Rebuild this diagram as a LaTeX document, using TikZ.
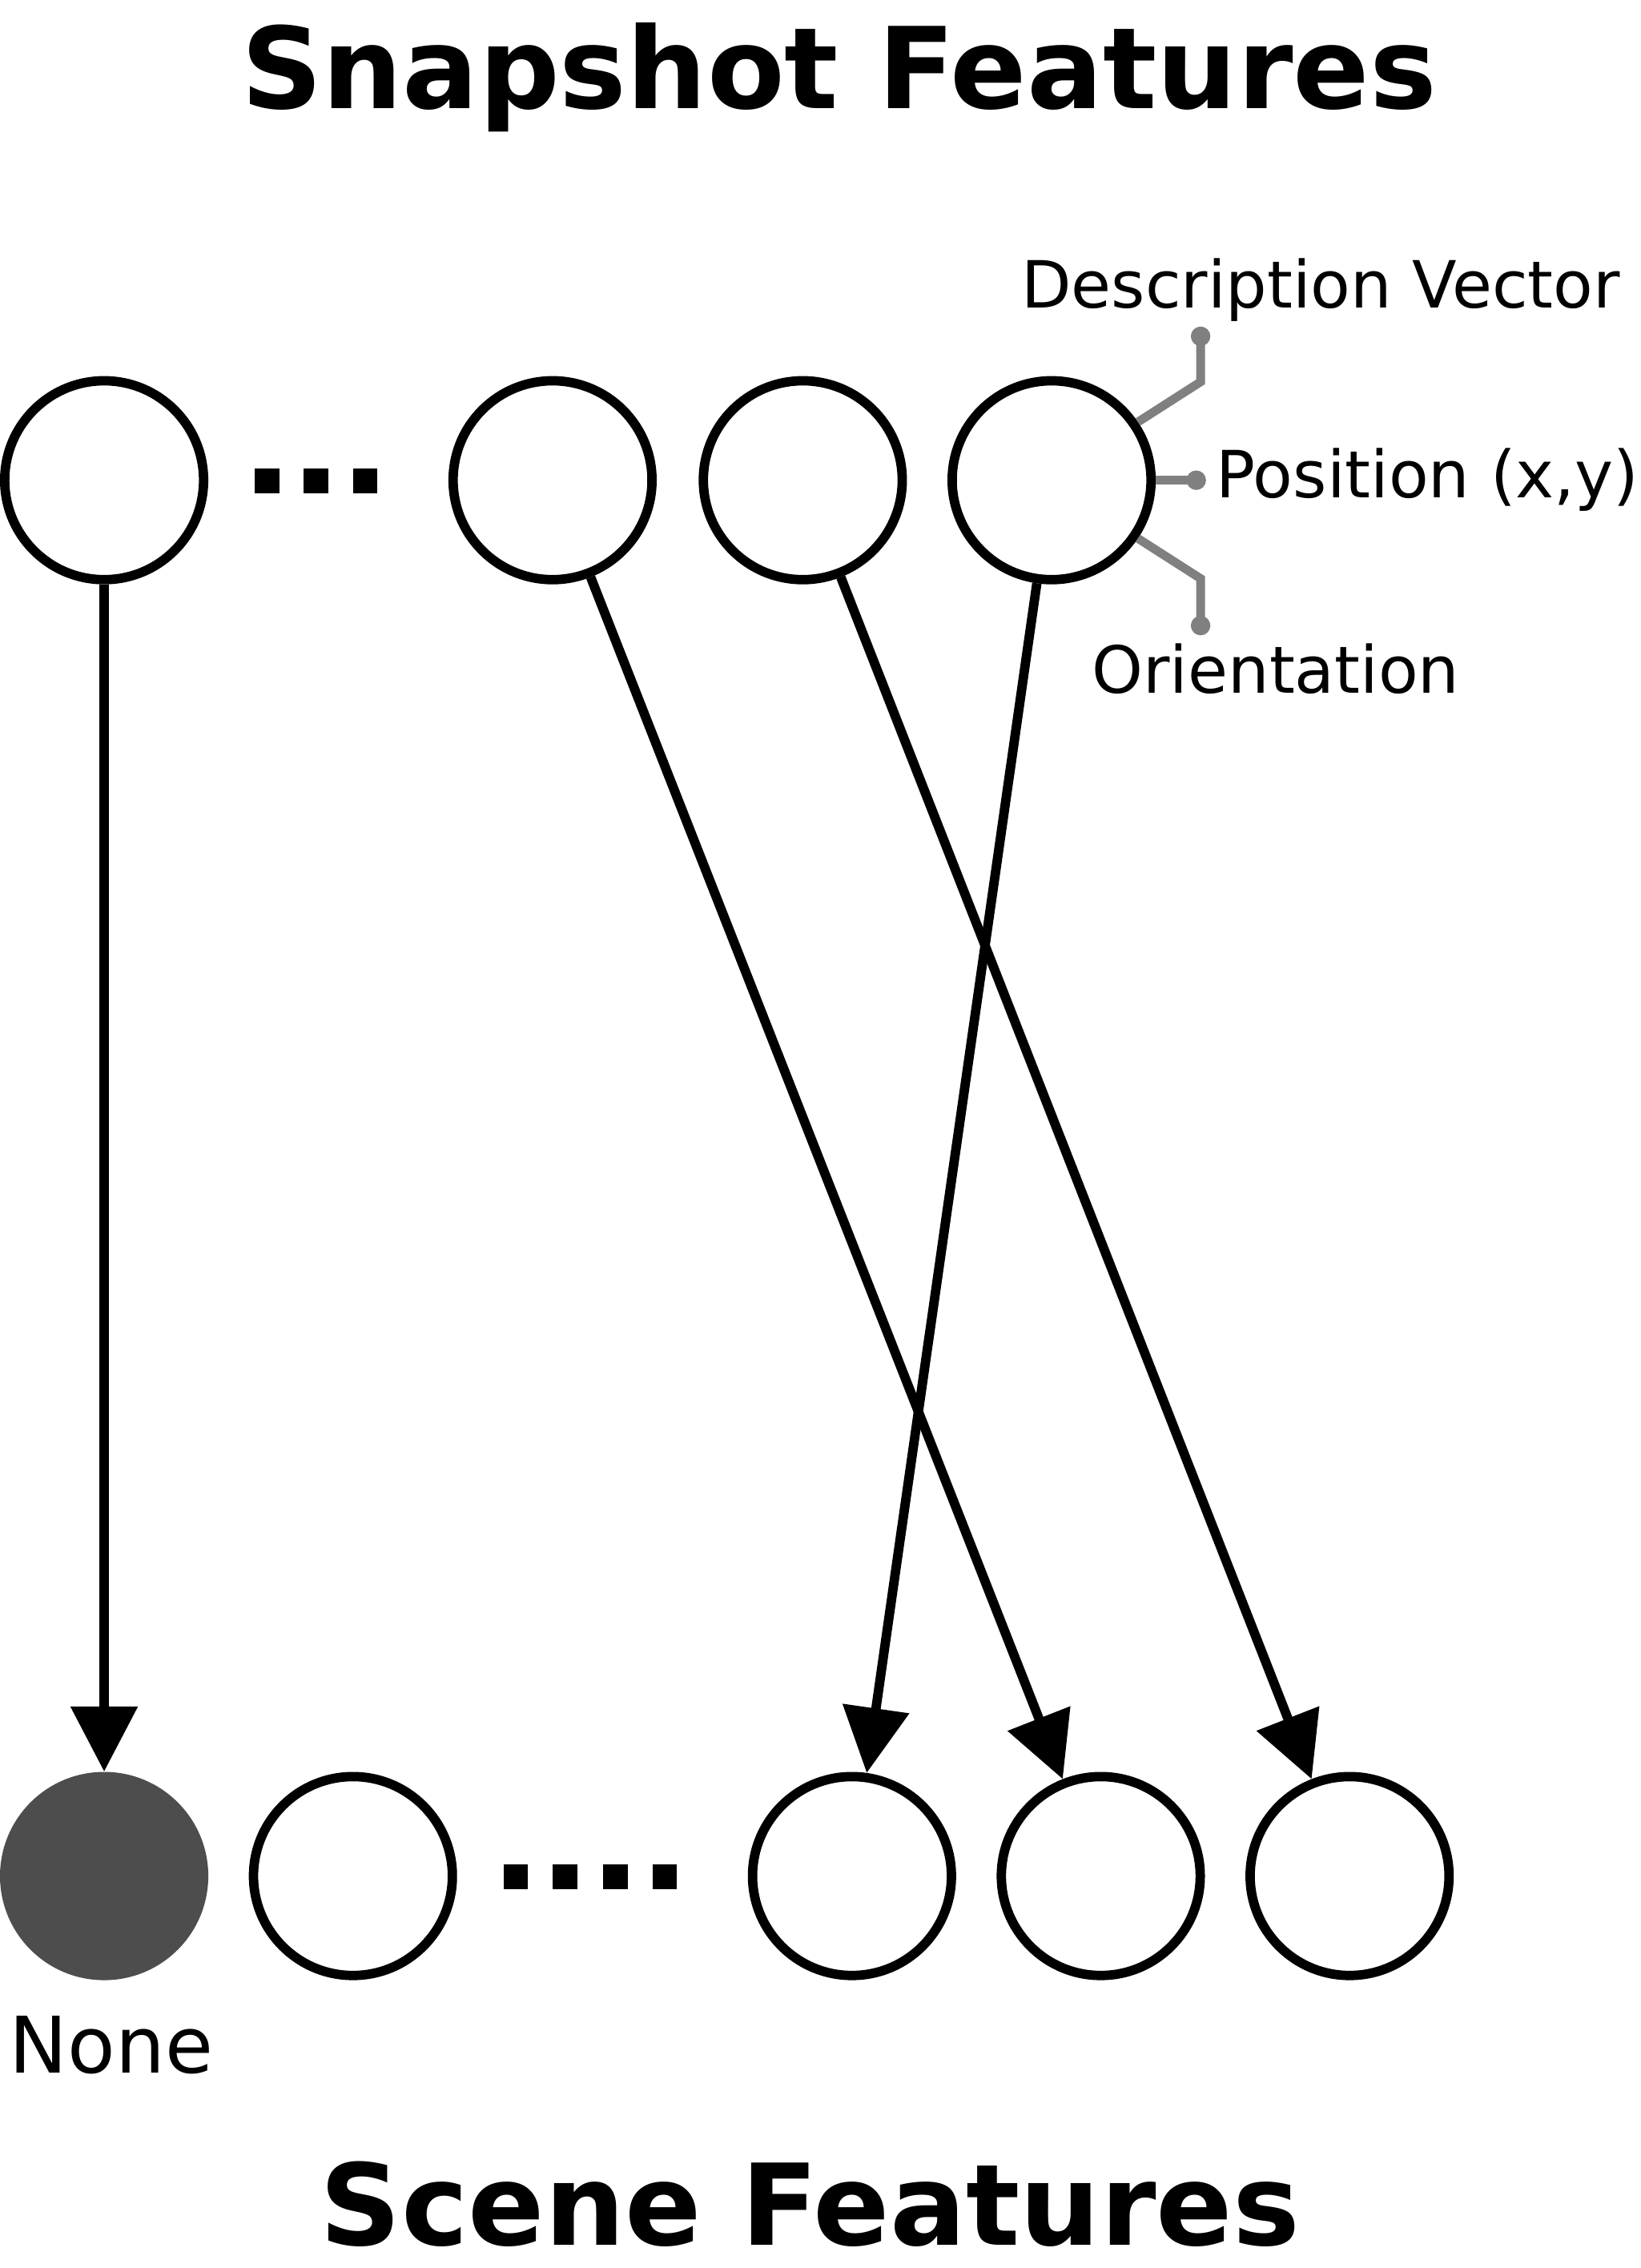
\documentclass[tikz,border=0pt]{standalone}
\usepackage{fontspec}
\setmainfont{DejaVu Sans}
\usetikzlibrary{arrows.meta}
\definecolor{nonegray}{HTML}{4D4D4D}
\definecolor{attrgray}{HTML}{808080}
\begin{document}
\begin{tikzpicture}[x=1pt,y=-1pt,
  feat/.style={circle,draw=black,line width=6.5pt,minimum size=137.5pt,inner sep=0pt,fill=white},
  nonefeat/.style={circle,fill=nonegray,minimum size=144pt,inner sep=0pt},
  match/.style={draw=black,line width=6.5pt,-{Triangle[length=45pt,width=45pt]}},
  attr/.style={draw=attrgray,line width=6pt},
  attrdot/.style={circle,fill=attrgray,minimum size=13.5pt,inner sep=0pt},
  lbl/.style={font=\fontsize{45}{54}\selectfont,inner sep=0pt,anchor=base},
  nonelbl/.style={font=\fontsize{54}{64}\selectfont,inner sep=0pt,anchor=base},
  ttl/.style={font=\bfseries\fontsize{78}{94}\selectfont,inner sep=0pt,anchor=base,text depth=0pt},
  dotsq/.style={fill=black}]
\useasboundingbox (0,0) rectangle (1134,1568);

% titles
\node[ttl] (snaptitle) at (580,75) {Snapshot Features};
\node[ttl] (scenetitle) at (560,1552) {Scene Features};

% snapshot features (top row)
\node[feat] (t1) at (72,332) {};
\node[feat] (t2) at (382,332) {};
\node[feat] (t3) at (555,332) {};
\node[feat] (t4) at (727,332) {};
\fill[dotsq] (176,324) rectangle (193,341);
\fill[dotsq] (210,324) rectangle (227,341);
\fill[dotsq] (244,324) rectangle (261,341);

% scene features (bottom row)
\node[nonefeat] (b1) at (72,1297) {};
\node[feat] (b2) at (244,1297) {};
\node[feat] (b3) at (589,1297) {};
\node[feat] (b4) at (761,1297) {};
\node[feat] (b5) at (933,1297) {};
\fill[dotsq] (348,1289) rectangle (365,1306);
\fill[dotsq] (382,1289) rectangle (399,1306);
\fill[dotsq] (417,1289) rectangle (434,1306);
\fill[dotsq] (451,1289) rectangle (468,1306);
\node[nonelbl] (nonetxt) at (77,1433) {None};

% attributes of a snapshot feature
\node[attrdot] (dvdot) at (830,232.5) {};
\coordinate (dvbend) at (830,264);
\draw[attr] (t4.34) -- (dvbend) -- (dvdot.center);
\node[attrdot] (posdot) at (827,332) {};
\draw[attr] (t4.east) -- (posdot.center);
\node[attrdot] (ordot) at (830,432.5) {};
\coordinate (orbend) at (830,400);
\draw[attr] (t4.-34) -- (orbend) -- (ordot.center);
\node[lbl] (dvtxt) at (913,213) {Description Vector};
\node[lbl] (postxt) at (987,344) {Position (x,y)};
\node[lbl] (ortxt) at (882,479) {Orientation};

% matches
\draw[match] (t1) -- (b1);
\draw[match] (t2) -- (b4);
\draw[match] (t3) -- (b5);
\draw[match] (t4) -- (b3);
\end{tikzpicture}
\end{document}
